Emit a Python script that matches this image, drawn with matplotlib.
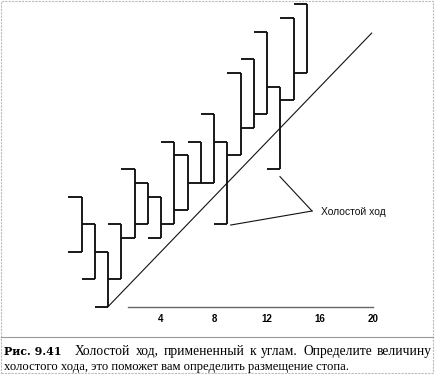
import matplotlib
matplotlib.use("Agg")
import matplotlib.pyplot as plt
from matplotlib.lines import Line2D
from matplotlib.patches import Rectangle

# ---- data ----
positions = list(range(-2, 16))
highs  = [8, 6, 4, 6, 10, 9, 8, 12, 11, 12, 14, 12, 17, 18, 20, 16, 21, 22]
lows   = [4, 2, 0, 2, 5, 6, 5, 6, 7, 9, 9, 6, 11, 13, 14, 10, 15, 17]
opens  = [4, 2, 0, 6, 10, 6, 5, 12, 7, 12, 14, 6, 17, 18, 20, 10, 21, 22]
closes = [6, 4, 2, 5, 9, 8, 6, 11, 9, 9, 12, 11, 13, 14, 16, 15, 17, None]
extra_left_ticks = [(-2, 8)]          # first bar also has a left tick at its high
angle_x = [0, 19.9]                   # 1x1 angle drawn from the low
angle_y = [0, 19.9]
xtick_values = [4, 8, 12, 16, 20]
annotation_text = "Холостой ход"
caption_label = "Рис. 9.41"
caption_line1 = "Холостой ход, примененный к углам. Определите величину"
caption_line2 = "холостого хода, это поможет вам определить размещение стопа."

W, H = 436, 375
fig = plt.figure(figsize=(W / 100, H / 100), dpi=100)
fig.patch.set_facecolor("white")

def fx(px):
    return px / W

def fy(py):
    return 1 - py / H

ax = fig.add_axes([fx(68.25), fy(320.45), 318 / W, 320.35 / H])
ax.set_xlim(-3, 21)
ax.set_ylim(-1, 22.3)
ax.set_facecolor("none")

bar_color = "#111111"
lw_bar = 1.35
tick_w = 1.0

ax.vlines(positions, lows, highs, color=bar_color, lw=lw_bar)
ax.hlines(opens, [p - tick_w for p in positions], positions, color=bar_color, lw=lw_bar)
cp = [p for p, c in zip(positions, closes) if c is not None]
cv = [c for c in closes if c is not None]
ax.hlines(cv, cp, [p + tick_w for p in cp], color=bar_color, lw=lw_bar)
for p, v in extra_left_ticks:
    ax.hlines(v, p - tick_w, p, color=bar_color, lw=lw_bar)

ax.plot(angle_x, angle_y, color="#111111", lw=0.8)

# annotation
ax.plot([12.98, 15.4], [9.46, 6.96], color="#111111", lw=0.8)
ax.plot([9.26, 15.4], [5.94, 6.96], color="#111111", lw=0.8)
ax.text(16.05, 6.89, annotation_text, fontsize=7.5, family="Liberation Sans",
        ha="left", va="center", color="#111111")

for s in ["top", "right", "left"]:
    ax.spines[s].set_visible(False)
ax.spines["bottom"].set_position(("data", 0))
ax.spines["bottom"].set_bounds(1.5, 20)
ax.spines["bottom"].set_color("#666666")
ax.spines["bottom"].set_linewidth(1.0)
ax.set_yticks([])
ax.set_xticks(xtick_values)
ax.set_xticklabels([str(v) for v in xtick_values], fontsize=7, fontweight="bold",
                   family="Liberation Sans")
ax.tick_params(axis="x", length=0, pad=5)

# frame and separator
fig.add_artist(Rectangle((fx(1), fy(373)), fx(432), 372 / H, transform=fig.transFigure,
                         fill=False, edgecolor="#bbbbbb", lw=0.8, linestyle=(0, (2, 1))))
fig.add_artist(Line2D([fx(1), fx(433)], [fy(337), fy(337)], transform=fig.transFigure,
                      color="#999999", lw=0.8))

# caption
fig.canvas.draw()
r = fig.canvas.get_renderer()

def fit_size(text, family, weight, target):
    t = fig.text(0, 0, text, fontsize=10, family=family, fontweight=weight)
    w = t.get_window_extent(r).width
    t.remove()
    return 10 * target / w

cap_family = "Liberation Serif"
size2 = fit_size(caption_line2, cap_family, "normal", 346)
size1 = fit_size(caption_line1, cap_family, "normal", 346)
size_lab = fit_size(caption_label, "DejaVu Serif", "bold", 58)

fig.text(fx(4), fy(355), caption_label, fontsize=size_lab, family="DejaVu Serif",
         fontweight="bold", va="baseline", ha="left")
fig.text(fx(4), fy(370), caption_line2, fontsize=size2, family=cap_family,
         va="baseline", ha="left")

words = caption_line1.split()
wtexts = [fig.text(0, fy(355), w, fontsize=size1, family=cap_family, va="baseline", ha="left")
          for w in words]
widths = [t.get_window_extent(r).width for t in wtexts]
gap = (432 - 75 - sum(widths)) / (len(words) - 1)
x = 75
for t, w in zip(wtexts, widths):
    t.set_x(fx(x))
    x += w + gap

fig.savefig("out.png", dpi=100)
